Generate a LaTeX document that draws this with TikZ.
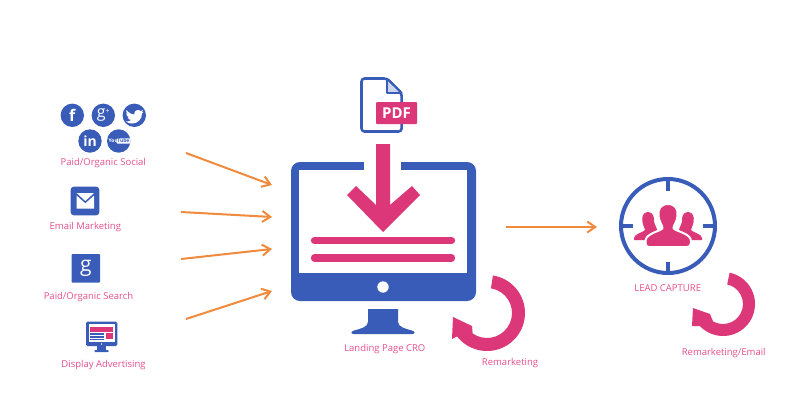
\documentclass[tikz,border=0pt]{standalone}
\usepackage{fontspec}
\setmainfont{Open Sans}
\usetikzlibrary{arrows.meta}
\definecolor{bl}{HTML}{385CB8}
\definecolor{pk}{HTML}{DC3778}
\definecolor{lb}{HTML}{E6508C}
\definecolor{og}{HTML}{F08A3C}
\tikzset{
  lab/.style={text=lb,font=\fontsize{9.5}{11}\selectfont,inner sep=0pt,anchor=center,yshift=-1.3pt},
  flow/.style={draw=og,line width=2pt,-{Straight Barb[length=8pt,width=11pt,line width=2pt]}},
  disc/.style={circle,fill=bl,minimum size=23.4pt,inner sep=0pt,text=white},
  tile/.style={fill=bl,rounded corners=3pt},
}
\begin{document}
\begin{tikzpicture}[x=1pt,y=-1pt]
\useasboundingbox (0,0) rectangle (800,408);
\fill[white] (0,0) rectangle (800,408);
% social
\node[disc,font=\bfseries\fontsize{16}{16}\selectfont] (fb) at (72.3,115.3) {f};
\node[disc,font=\fontsize{16}{16}\selectfont\rmfamily] (gp) at (103.3,115.3) {g\raisebox{4pt}{\fontsize{7}{7}\selectfont +}};
\node[disc] (tw) at (134.3,115.3) {};
\fill[white] (126.5,110) .. controls (129,113) and (131.5,114.5) .. (134.2,114.6)
  .. controls (133.6,110.5) and (138.5,108.6) .. (140.6,111) -- (143,110) -- (141.8,112.2) -- (143.4,111.8) -- (142,113.6)
  .. controls (142.2,119) and (137.5,123.5) .. (132.5,123.5)
  .. controls (130,123.5) and (128,123) .. (126,121.5)
  .. controls (128,121.7) and (130,121) .. (131.2,120)
  .. controls (129.5,120) and (128.2,119) .. (127.6,117.4)
  -- (129.2,117.4) .. controls (127.4,116.8) and (126.2,115) .. (126.2,113.4)
  -- (127.8,113.8) .. controls (126.2,112.6) and (125.8,111.4) .. (126.5,110) -- cycle;
\node[disc,font=\bfseries\fontsize{14}{14}\selectfont] (li) at (90,141) {in};
\node[disc] (yt) at (118.7,141) {};
\node[text=white,inner sep=0pt,font=\bfseries\fontsize{5}{5}\selectfont] (yta) at (113.2,141) {You};
\node[fill=white,rounded corners=1pt,text=bl,inner sep=.8pt,font=\bfseries\fontsize{5}{5}\selectfont] (ytb) at (123.4,141) {Tube};
\node[lab] (lsoc) at (103.3,162) {Paid/Organic Social};
% email
\node[tile,minimum size=28.6pt,inner sep=0pt] (em) at (85,201) {};
\fill[white] (76.7,193) -- (94,193) -- (85.3,201) -- cycle;
\fill[white] (76.7,195.6) -- (85.3,203.4) -- (94,195.6) -- (94,208.7) -- (76.7,208.7) -- cycle;
\node[lab] (lem) at (85.3,225.7) {Email Marketing};
% google
\node[fill=bl,rounded corners=1pt,minimum size=28.6pt,inner sep=0pt,text=white,font=\rmfamily\fontsize{21}{21}\selectfont] (gg) at (85.8,268.3) {g};
\node[lab] (lgo) at (88.5,296) {Paid/Organic Search};
% display
\fill[bl,rounded corners=1.5pt] (86,321.7) rectangle (117.3,346);
\fill[white] (88.7,324) rectangle (114.7,342);
\fill[bl] (97,346) rectangle (105.7,350.5);
\fill[bl,rounded corners=.7pt] (94.5,350) rectangle (108.5,352);
\fill[white] (101.6,344) circle (.8);
\fill[pk] (90,326.7) rectangle (113.3,331.7);
\fill[pk] (106,333.3) rectangle (113.3,339.3);
\fill[bl] (90,333.3) rectangle (104,335);
\fill[bl] (90,336) rectangle (104,337.6);
\fill[bl] (90,338.6) rectangle (104,340);
\node[lab] (ldi) at (103.5,364) {Display Advertising};
% PDF
\draw[bl,line width=2.6pt,line join=round,rounded corners=3pt]
  (401.6,102) -- (401.6,93) -- (387,78.5) -- (361.5,78.5) -- (361.5,131.5) -- (401.6,131.5) -- (401.6,124);
\fill[bl!25!white,draw=bl,line width=1.8pt,line join=round] (387,79) -- (387,93) -- (401.6,93) -- cycle;
\node[fill=pk,rounded corners=1pt,text=white,font=\bfseries\fontsize{15}{15}\selectfont,minimum width=41pt,minimum height=22pt,inner sep=0pt] (pdf) at (396.5,113) {PDF};
% monitor
\fill[bl,rounded corners=9pt] (291,162) rectangle (476,301);
\fill[white] (299,170) rectangle (467,273);
\fill[white] (364,160) rectangle (401,172);
\fill[pk] (376,144) -- (390,144) -- (390,205) -- (412,186) -- (420,195) -- (383,232) -- (347,195) -- (356,186) -- (376,205) -- cycle;
\draw[pk,line width=7.3pt,line cap=round] (314.5,240.5) -- (451.5,240.5);
\draw[pk,line width=7.3pt,line cap=round] (314.5,258) -- (451.5,258);
\fill[white] (383,287) circle (5.7);
\fill[bl] (368,309) -- (398,309) -- (398,322) .. controls (398,327) and (406,329) .. (412,330.5)
  .. controls (416,332) and (415,334) .. (412,334) -- (354,334)
  .. controls (351,334) and (350,332) .. (354,330.5)
  .. controls (360,329) and (368,327) .. (368,322) -- cycle;
\node[lab] (llp) at (384.8,348) {Landing Page CRO};
% remarketing arrow 1
\fill[pk] (487,313) ++(81:38pt) arc[start angle=81,end angle=-142,radius=38pt]
  -- (452,339) -- (453,317) -- (472,326)
  -- ([shift={(-125:25pt)}]487,313) arc[start angle=-125,end angle=81,radius=25pt] -- cycle;
\node[lab] (lre) at (510,361.7) {Remarketing};
% target
\draw[bl,line width=4pt] (668,226) circle (47);
\fill[bl] (665.6,178) rectangle (670.4,191);
\fill[bl] (665.6,262) rectangle (670.4,274);
\fill[bl] (620,223.6) rectangle (633,228.4);
\fill[bl] (703,223.6) rectangle (716,228.4);
\foreach \s/\cx in {-1/648,1/688}{
\fill[pk] (\cx,212) .. controls ({\cx+5*\s},212) and ({\cx+6.5*\s},217) .. ({\cx+5.5*\s},222)
  .. controls ({\cx+5*\s},226) and ({\cx+3*\s},228) .. ({\cx+3*\s},230)
  .. controls ({\cx+4*\s},232) and ({\cx+14*\s},234) .. ({\cx+14*\s},238)
  -- ({\cx+14*\s},240) -- ({\cx-6*\s},240) -- ({\cx-10*\s},232) -- ({\cx-6*\s},222)
  .. controls ({\cx-6.5*\s},217) and ({\cx-5*\s},212) .. (\cx,212) -- cycle;
}
\draw[white,line width=2pt,fill=pk,line join=round] (668,204) .. controls (675,204) and (678.5,209) .. (677.5,216)
  .. controls (677,222) and (673.5,225) .. (673.5,228)
  .. controls (674,231) and (691,233) .. (691,241)
  -- (691,243) .. controls (691,246) and (689,247) .. (687,247) -- (649,247)
  .. controls (647,247) and (645.5,246) .. (645.5,243)
  -- (645.5,241) .. controls (645.5,233) and (662,231) .. (662.5,228)
  .. controls (662.5,225) and (659,222) .. (658.5,216)
  .. controls (657.5,209) and (661,204) .. (668,204) -- cycle;
\node[lab] (lle) at (667.7,287) {LEAD CAPTURE};
% remarketing arrow 2
\fill[pk] (723,304) ++(78:32pt) arc[start angle=78,end angle=-136,radius=32pt]
  -- (692,326) -- (693,308) -- (710,314)
  -- ([shift={(-120:20pt)}]723,304) arc[start angle=-120,end angle=78,radius=20pt] -- cycle;
\node[lab] (lrm) at (723.7,352) {Remarketing/Email};
% connectors
\coordinate (a1) at (186,153); \coordinate (b1) at (272,185);
\coordinate (a2) at (181,212); \coordinate (b2) at (272,217);
\coordinate (a3) at (181,259); \coordinate (b3) at (272,249);
\coordinate (a4) at (186,319); \coordinate (b4) at (272,291);
\coordinate (a5) at (506,227); \coordinate (b5) at (597,227);
\foreach \i in {1,...,5}{\draw[flow] (a\i) -- (b\i);}
\end{tikzpicture}
\end{document}
